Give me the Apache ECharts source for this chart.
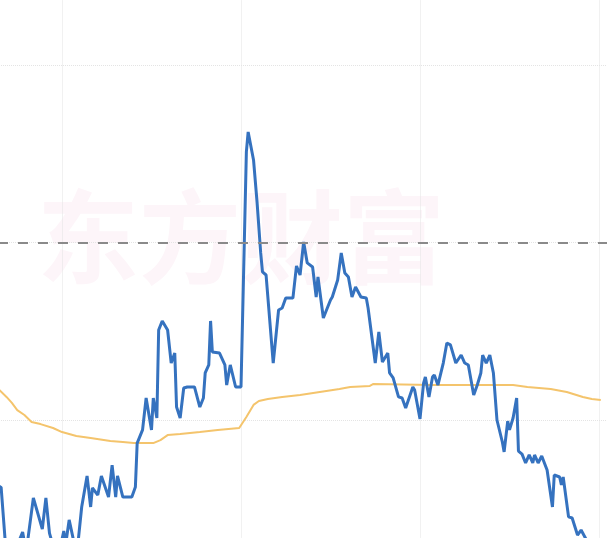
<!DOCTYPE html>
<html>
<head>
<meta charset="utf-8">
<script src="https://cdn.jsdelivr.net/npm/echarts@6/dist/echarts.min.js"></script>
<style>
html,body{margin:0;padding:0;background:#fff;}
#chart{width:607px;height:538px;}
</style>
</head>
<body>
<div id="chart"></div>
<script>
// Blue series: trading-day index and value
var valueDays = [63,66,69,74,78,80,84,89,91,93,96,99,101,102,104,107,109,111,114,116,117,120,122,126,128,130,131,134,139,141,142,145,147,150,151,153,154,156,159,160,161,163,164,166,168,170,174,177,179,180,182,183,184,188,191,192,194,197,200,203,204,207,209,211,212,214,215,218,221,223,225,229,231,233,235,237,240,242,243,246,250,251,254,256,258,260,262,264,265,267,270,271,275,277,279,282,283,285,288,290,292,293,296,297,300,302,303,305,307,308,310,313,315,317,320,321,323,325,327,330,332,334,335,337,339,341,343,346,347,349,350,352,354,355,357,359,361,363,364,366,368,371,374,375,378,379,380,383,385,388,390,393,398,401];
var valueSeries = [16.4,16.2,12.2,12.68,13.69,12.56,15.61,13.86,15.61,13.63,12.56,12.79,13.75,12.96,14.37,12.96,13.13,15.10,16.85,15.10,16.17,15.77,16.85,15.66,17.46,15.66,16.85,15.66,15.66,16.23,18.70,19.44,21.24,19.44,21.24,20.11,25.07,25.58,25.07,24.96,23.21,23.77,20.73,20.11,21.80,21.86,21.86,20.73,21.24,22.65,23.10,25.58,23.83,23.77,23.10,21.97,23.10,21.86,21.86,35.10,36.23,34.65,32.23,29.41,28.34,28.17,28.06,23.21,26.20,26.31,26.87,26.87,28.68,28.17,30.03,28.85,28.62,26.93,28.06,25.75,26.76,26.93,27.89,29.41,28.28,28.06,26.93,27.49,27.44,26.93,26.87,26.31,23.21,24.96,23.27,23.77,22.65,22.37,21.30,21.24,20.68,20.68,21.86,21.69,20.06,22.08,22.42,21.30,22.42,22.54,21.97,23.21,24.34,24.23,23.21,23.10,23.66,23.21,23.10,21.41,21.97,22.65,23.66,23.21,23.66,22.65,20.00,18.76,18.20,19.94,19.44,20.11,21.24,18.25,18.08,17.58,18.03,17.58,18.03,17.58,17.97,17.18,15.10,16.90,16.79,16.34,16.79,14.54,14.48,13.52,13.80,13.24,12.39,12.2];
// Yellow series: average
var avgDays = [60,65,69,72,75,79,83,88,95,100,108,116,127,134,140,151,155,159,166,177,187,199,203,207,210,215,223,233,244,255,261,272,274,307,352,360,373,382,391,396,401];
var avgSeries = [22.4,21.69,21.30,20.96,20.56,20.28,19.89,19.77,19.55,19.32,19.10,18.99,18.82,18.76,18.70,18.70,18.87,19.15,19.21,19.32,19.44,19.55,20.17,20.85,21.07,21.18,21.30,21.41,21.58,21.75,21.86,21.92,22.03,21.97,21.97,21.86,21.75,21.58,21.30,21.18,21.13];
var refLevel = 30;
var watermarkText = '东方财富';

function zip(a, b) { return a.map(function (d, i) { return [d, b[i]]; }); }

var chart = echarts.init(document.getElementById('chart'), null, {renderer: 'canvas'});
chart.setOption({
  animation: false,
  backgroundColor: '#ffffff',
  graphic: [{
    type: 'text',
    left: 37, top: 186,
    z: 0,
    silent: true,
    style: {
      text: watermarkText,
      font: 'bold 102px "Noto Sans CJK SC"',
      fill: '#fdf5f9'
    }
  }],
  grid: {left: -117, top: -112.5, width: 895, height: 887.5, containLabel: false, outerBoundsMode: 'none'},
  xAxis: {
    type: 'value', min: 0, max: 500, interval: 100,
    axisLine: {show: false}, axisTick: {show: false}, axisLabel: {show: false},
    splitLine: {show: true, lineStyle: {color: '#e4e4e4', type: 'dotted', width: 1}}
  },
  yAxis: {
    type: 'value', min: 0, max: 50, interval: 10,
    axisLine: {show: false}, axisTick: {show: false}, axisLabel: {show: false},
    splitLine: {show: true, lineStyle: {color: '#e4e4e4', type: 'dotted', width: 1}}
  },
  series: [
    {
      type: 'line', data: zip(avgDays, avgSeries), showSymbol: false, smooth: false,
      lineStyle: {color: '#f4c46c', width: 2}, z: 2
    },
    {
      type: 'line', data: zip(valueDays, valueSeries), showSymbol: false, smooth: false,
      lineStyle: {color: '#3572bf', width: 3}, z: 3,
      markLine: {
        silent: true, symbol: 'none', label: {show: false},
        lineStyle: {color: '#8a8a8a', width: 2, type: [10, 10], dashOffset: 5},
        data: [{yAxis: refLevel}]
      }
    }
  ]
});
</script>
</body>
</html>
